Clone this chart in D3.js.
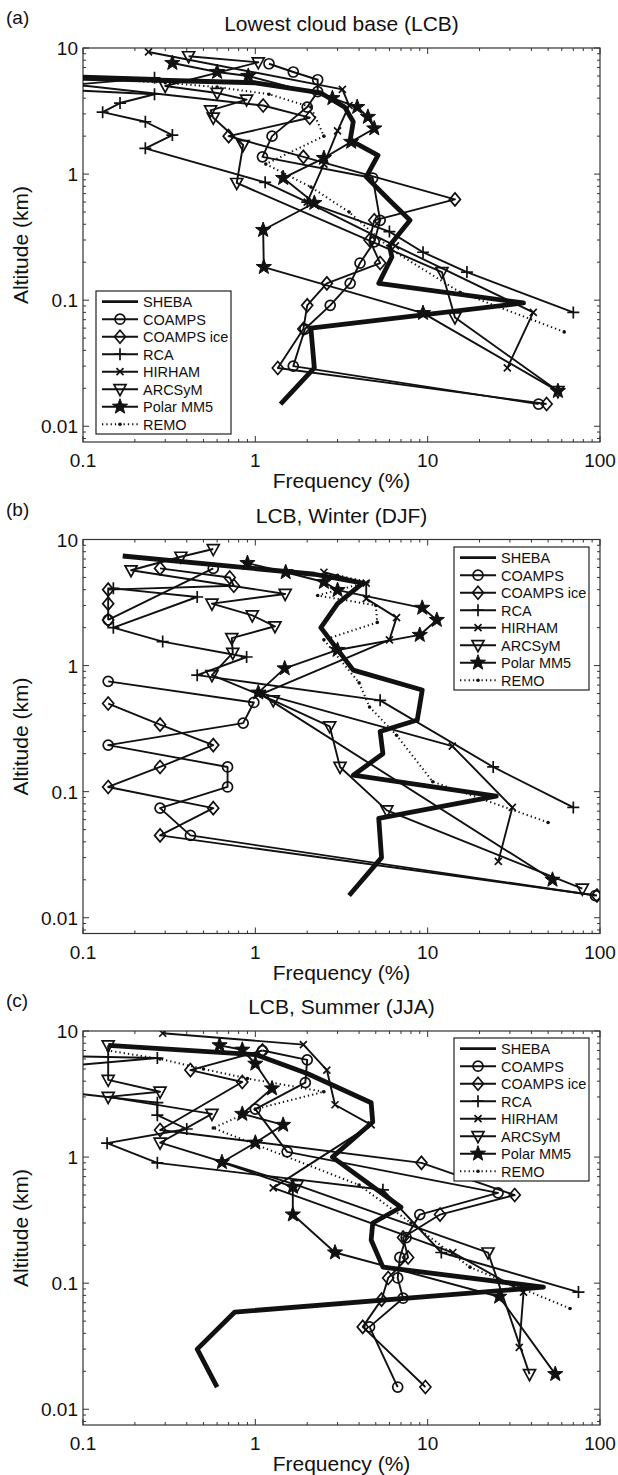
<!DOCTYPE html>
<html>
<head>
<meta charset="utf-8">
<script src="https://cdn.jsdelivr.net/npm/d3@7"></script>
<style>
  body { margin: 0; background: #fff; }
  svg text { font-family: "Liberation Sans", Arial, sans-serif; fill: #111; }
</style>
</head>
<body>
<svg id="chart" width="618" height="1475"></svg>
<script>
// [altitude km, frequency %]; null frequency breaks the line
const aSheba = [[0.015,1.4],[0.029,2.2],[0.06,2.1],[0.095,36],[0.136,5.2],[0.22,6.2],[0.27,6.0],[0.43,7.9],[0.62,6.0],[0.95,4.4],[1.41,5.15],[1.86,3.55],[2.6,3.7],[3.4,3.3],[4.4,2.4],[5.3,1.0],[5.9,0.05]]
const aCoamps = [[0.015,44],[0.03,1.66],[0.059,1.94],[0.091,2.72],[0.136,3.55],[0.197,4.05],[0.29,4.9],[0.43,5.3],[0.93,4.8],[1.37,1.1],[2.0,1.25],[3.4,2.0],[4.5,2.3],[5.6,2.3],[6.45,1.66],[7.5,1.2]]
const aCoampsIce = [[0.015,49],[0.029,1.35],[0.059,1.9],[0.091,2.0],[0.136,2.6],[0.197,5.3],[0.3,4.6],[0.43,4.9],[0.63,14.4],[1.37,1.9],[2.0,0.7],[2.8,2.07],[3.5,1.11],[5.6,0.05]]
const aRca = [[0.08,70],[0.167,16.9],[0.24,9.4],[0.35,6.0],[0.6,2.0],[0.86,1.14],[1.6,0.23],[2.04,0.33],[2.6,0.23],[3.1,0.13],[3.66,0.164],[4.3,0.26],[4.8,0.05],[5.8,0.26],[6.2,0.05]]
const aHirham = [[0.029,29],[0.08,41],[0.27,6.5],[0.6,2.0],[1.2,2.5],[2.2,3.0],[3.5,3.5],[4.7,3.2],[9.3,0.24]]
const aArcsym = [[0.019,57],[0.073,14.4],[0.167,12.1],[0.85,0.78],[1.7,0.85],[2.8,0.57],[3.2,0.55],[3.9,0.89],[4.4,0.6],[5.0,0.3],[7.7,1.04],[8.6,0.41]]
const aPolar = [[0.019,57],[0.079,9.4],[0.183,1.12],[0.36,1.11],[0.59,2.2],[0.93,1.45],[1.34,2.5],[1.8,3.6],[2.3,4.9],[2.84,4.5],[3.4,3.9],[4.0,2.8],[6.0,0.91],[6.45,0.6],[7.6,0.33]]
const aRemo = [[0.056,62],[0.115,15.5],[0.25,6.2],[0.5,3.5],[0.79,2.1],[1.2,1.15],[2.0,2.5],[3.4,2.1],[4.3,1.2],[4.9,0.6],[5.3,0.3],[5.8,0.1]]

const bSheba = [[0.015,3.5],[0.03,5.4],[0.0615,5.2],[0.092,25],[0.135,3.7],[0.2,5.5],[0.3,5.3],[0.37,8.7],[0.64,9.3],[0.92,3.7],[2.0,2.4],[3.1,3.0],[4.5,4.2],[5.3,2.2],[7.4,0.17]]
const bCoamps = [[0.015,94],[0.045,0.42],[0.074,0.28],[0.109,0.69],[0.157,0.69],[0.234,0.14],[0.35,0.85],[0.51,0.98],[0.75,0.14],[1.1,null],[2.3,0.14],[5.9,0.57]]
const bCoampsIce = [[0.015,96],[0.045,0.28],[0.074,0.57],[0.109,0.14],[0.157,0.28],[0.234,0.57],[0.34,0.28],[0.5,0.14],[0.75,null],[2.3,0.14],[3.1,0.14],[4.0,0.14],[4.3,0.75],[5.0,0.71],[5.9,0.28]]
const bRca = [[0.075,70],[0.157,24],[0.53,5.3],[0.84,0.46],[1.17,0.89],[1.55,0.29],[2.0,0.15],[3.5,0.46],[4.1,0.15]]
const bHirham = [[0.028,25.7],[0.075,31],[0.23,13.9],[0.6,1.1],[1.6,6.0],[2.4,6.6],[3.4,4.4],[4.5,4.4],[5.5,2.5]]
const bArcsym = [[0.017,79],[0.071,5.8],[0.157,3.1],[0.33,2.7],[0.53,1.27],[0.84,0.56],[1.26,0.74],[1.65,0.73],[2.05,1.3],[2.5,0.96],[3.1,0.56],[3.7,1.49],[5.7,0.19],[7.3,0.37],[8.4,0.57]]
const bPolar = [[0.02,53],[0.61,1.04],[0.95,1.48],[1.33,3.0],[1.75,9.0],[2.3,11.3],[2.87,9.3],[3.97,3.0],[4.6,2.5],[5.5,1.5],[6.5,0.9]]
const bRemo = [[0.057,50],[0.12,10.7],[0.28,6.6],[0.47,4.6],[0.73,4.0],[1.6,2.5],[2.2,5.1],[3.0,5.0],[3.6,2.3],[4.6,4.5],[5.2,3.0]]

const cSheba = [[0.015,0.6],[0.03,0.46],[0.059,0.76],[0.093,47],[0.134,5.5],[0.22,4.7],[0.3,4.8],[0.4,7.0],[1.0,2.8],[1.9,4.8],[2.7,4.7],[4.6,2.0],[6.5,1.0],[7.7,0.14]]
const cCoamps = [[0.015,6.7],[0.045,4.6],[0.076,7.2],[0.11,6.7],[0.16,6.9],[0.23,7.5],[0.35,9.0],[0.52,25.6],[1.1,1.53],[2.4,1.0],[3.9,1.95],[5.9,2.0],[7.0,1.1]]
const cCoampsIce = [[0.015,9.7],[0.045,4.2],[0.074,5.4],[0.11,5.9],[0.16,7.7],[0.23,7.2],[0.35,11.8],[0.5,32],[0.9,9.2],[1.64,0.28],[3.94,0.84],[4.9,0.42],[7.0,1.1]]
const cRca = [[0.085,75],[0.175,12],[0.55,5.5],[0.9,0.27],[1.29,0.138],[1.67,0.4],[2.15,0.27],[2.7,0.27],[3.5,0.05],[5.0,0.05],[6.1,0.27],[6.4,0.05]]
const cHirham = [[0.031,34],[0.085,36],[0.175,14],[0.57,1.27],[1.8,4.7],[2.6,2.9],[4.9,2.6],[7.8,1.9],[9.6,0.29]]
const cArcsym = [[0.019,39],[0.175,22.4],[0.6,1.75],[1.3,0.28],[2.2,0.56],[3.0,0.14],[3.3,0.28],[4.1,0.14],[7.7,0.14]]
const cPolar = [[0.019,55],[0.078,26],[0.175,2.9],[0.35,1.65],[0.58,1.65],[0.91,0.64],[1.3,1.0],[1.8,1.45],[2.2,0.84],[3.5,1.25],[5.5,1.0],[7.1,0.84],[7.7,0.62]]
const cRemo = [[0.063,67],[0.134,17.6],[0.3,8.0],[0.6,4.0],[1.7,0.57],[2.4,1.0],[3.3,2.5],[4.2,0.9],[5.0,0.5],[6.0,0.28],[7.0,0.14]]

const seriesNames = ['SHEBA', 'COAMPS', 'COAMPS ice', 'RCA', 'HIRHAM', 'ARCSyM', 'Polar MM5', 'REMO']
const panelTitles = ['Lowest cloud base (LCB)', 'LCB, Winter (DJF)', 'LCB, Summer (JJA)']
const panelLetters = ['(a)', '(b)', '(c)']
const xTicks = [0.1, 1, 10, 100]
const yTicks = [0.01, 0.1, 1, 10]

const panels = [
  [aSheba, aCoamps, aCoampsIce, aRca, aHirham, aArcsym, aPolar, aRemo],
  [bSheba, bCoamps, bCoampsIce, bRca, bHirham, bArcsym, bPolar, bRemo],
  [cSheba, cCoamps, cCoampsIce, cRca, cHirham, cArcsym, cPolar, cRemo],
]

const markerKinds = ['none', 'circle', 'diamond', 'plus', 'x', 'triangle', 'star', 'dot']

function markerPath(kind) {
  if (kind === 'diamond') return 'M0,-6.5L5.5,0L0,6.5L-5.5,0Z'
  if (kind === 'plus') return 'M-6,0H6M0,-6V6'
  if (kind === 'x') return 'M-3.5,-3.5L3.5,3.5M-3.5,3.5L3.5,-3.5'
  if (kind === 'triangle') return 'M-6,-4.5L6,-4.5L0,6.5Z'
  if (kind === 'star') {
    const pts = []
    for (let i = 0; i < 10; i++) {
      const r = i % 2 === 0 ? 8 : 3.3
      const a = -Math.PI / 2 + (i * Math.PI) / 5
      pts.push([r * Math.cos(a), r * Math.sin(a)])
    }
    return 'M' + pts.map(p => p.join(',')).join('L') + 'Z'
  }
  return null
}

function drawMarker(g, kind, x, y) {
  if (kind === 'none') return
  if (kind === 'circle') {
    g.append('circle').attr('cx', x).attr('cy', y).attr('r', 5)
      .attr('fill', 'none').attr('stroke', '#111').attr('stroke-width', 1.7)
    return
  }
  if (kind === 'dot') {
    g.append('circle').attr('cx', x).attr('cy', y).attr('r', 1.8).attr('fill', '#111')
    return
  }
  g.append('path')
    .attr('d', markerPath(kind))
    .attr('transform', `translate(${x},${y})`)
    .attr('fill', kind === 'star' ? '#111' : 'none')
    .attr('stroke', '#111')
    .attr('stroke-width', kind === 'star' ? 1 : 1.7)
}

const svg = d3.select('#chart')

const margin = { left: 83, right: 18 }
const plotHeight = 394
const panelTops = [48, 539.5, 1031]
const legendBoxes = [
  { x: 96, y: 291 },
  { x: 454, y: 547 },
  { x: 454, y: 1038 },
]

const xScale = d3.scaleLog().domain([0.1, 100]).range([margin.left, 618 - margin.right])

panels.forEach((seriesList, p) => {
  const top = panelTops[p]
  const yScale = d3.scaleLog().domain([0.0075, 10]).range([top + plotHeight, top])
  const g = svg.append('g')
  const x0 = xScale.range()[0]
  const x1 = xScale.range()[1]
  const y0 = top + plotHeight

  g.append('text').attr('x', 6).attr('y', top - 24).attr('font-size', 19).text(panelLetters[p])
  g.append('text').attr('x', (x0 + x1) / 2).attr('y', top - 17)
    .attr('text-anchor', 'middle').attr('font-size', 21).text(panelTitles[p])

  // ticks, inward on all four sides
  const axisColor = '#333'
  const minorX = []
  for (let d = -1; d < 2; d++) for (let m = 2; m <= 9; m++) minorX.push(m * Math.pow(10, d))
  const minorY = []
  for (let d = -3; d < 1; d++) for (let m = 2; m <= 9; m++) {
    const v = m * Math.pow(10, d)
    if (v >= 0.0075 && v <= 10) minorY.push(v)
  }
  xTicks.concat(minorX).forEach(v => {
    const len = xTicks.includes(v) ? 6 : 3
    const x = xScale(v)
    g.append('line').attr('x1', x).attr('x2', x).attr('y1', y0).attr('y2', y0 - len)
      .attr('stroke', axisColor).attr('stroke-width', 1)
    g.append('line').attr('x1', x).attr('x2', x).attr('y1', top).attr('y2', top + len)
      .attr('stroke', axisColor).attr('stroke-width', 1)
  })
  yTicks.concat(minorY).forEach(v => {
    const len = yTicks.includes(v) ? 6 : 3
    const y = yScale(v)
    g.append('line').attr('x1', x0).attr('x2', x0 + len).attr('y1', y).attr('y2', y)
      .attr('stroke', axisColor).attr('stroke-width', 1)
    g.append('line').attr('x1', x1).attr('x2', x1 - len).attr('y1', y).attr('y2', y)
      .attr('stroke', axisColor).attr('stroke-width', 1)
  })
  g.append('rect').attr('x', x0).attr('y', top).attr('width', x1 - x0).attr('height', plotHeight)
    .attr('fill', 'none').attr('stroke', axisColor).attr('stroke-width', 1.2)

  xTicks.forEach(v => {
    g.append('text').attr('x', xScale(v)).attr('y', y0 + 25).attr('text-anchor', 'middle')
      .attr('font-size', 19).text(v)
  })
  yTicks.forEach(v => {
    g.append('text').attr('x', x0 - 5).attr('y', yScale(v) + 7).attr('text-anchor', 'end')
      .attr('font-size', 19).text(v)
  })
  g.append('text').attr('x', (x0 + x1) / 2).attr('y', y0 + 46).attr('text-anchor', 'middle')
    .attr('font-size', 21).text('Frequency (%)')
  g.append('text')
    .attr('transform', `translate(28, ${top + plotHeight / 2}) rotate(-90)`)
    .attr('text-anchor', 'middle').attr('font-size', 21).text('Altitude (km)')

  // data, clipped to the axes box
  const clipId = `clip-${p}`
  svg.append('defs').append('clipPath').attr('id', clipId)
    .append('rect').attr('x', x0).attr('y', top).attr('width', x1 - x0).attr('height', plotHeight)
  const dataG = g.append('g').attr('clip-path', `url(#${clipId})`)

  const line = d3.line()
    .defined(d => d[1] !== null)
    .x(d => xScale(d[1]))
    .y(d => yScale(d[0]))

  seriesList.forEach((data, s) => {
    const isSheba = s === 0
    const isRemo = s === 7
    dataG.append('path')
      .datum(data)
      .attr('d', line)
      .attr('fill', 'none')
      .attr('stroke', '#111')
      .attr('stroke-width', isSheba ? 4.8 : isRemo ? 2 : 1.9)
      .attr('stroke-dasharray', isRemo ? '1.3,3' : null)
      .attr('stroke-linejoin', 'round')
    data.forEach(d => {
      if (d[1] === null) return
      drawMarker(dataG, markerKinds[s], xScale(d[1]), yScale(d[0]))
    })
  })

  // legend
  const lb = legendBoxes[p]
  const lg = g.append('g')
  lg.append('rect').attr('x', lb.x).attr('y', lb.y).attr('width', 135).attr('height', 143)
    .attr('fill', '#fff').attr('stroke', '#222').attr('stroke-width', 1.2)
  seriesNames.forEach((name, s) => {
    const ry = lb.y + 10.7 + s * 17.5
    lg.append('line').attr('x1', lb.x + 6).attr('x2', lb.x + 42).attr('y1', ry).attr('y2', ry)
      .attr('stroke', '#111')
      .attr('stroke-width', s === 0 ? 2.8 : s === 7 ? 2 : 1.9)
      .attr('stroke-dasharray', s === 7 ? '1.3,3' : null)
    drawMarker(lg, markerKinds[s], lb.x + 24, ry)
    lg.append('text').attr('x', lb.x + 47).attr('y', ry + 5.5).attr('font-size', 14.5).text(name)
  })
})
</script>
</body>
</html>
